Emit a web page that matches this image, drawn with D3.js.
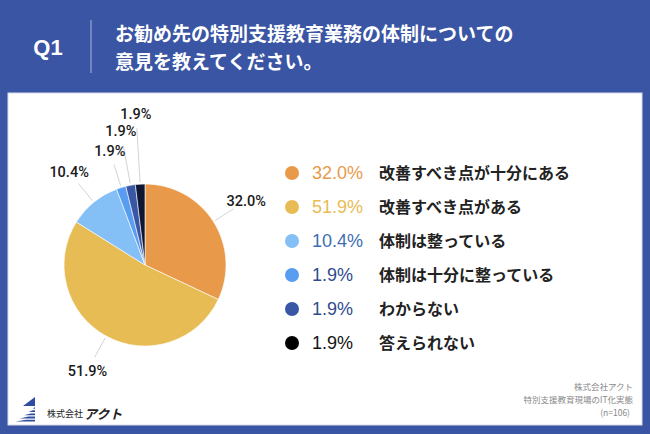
<!DOCTYPE html>
<html>
<head>
<meta charset="utf-8">
<script src="https://cdn.jsdelivr.net/npm/d3@7"></script>
<style>
  html, body { margin: 0; padding: 0; background: #3a55a3; }
  svg { display: block; }
  .jp { font-family: "Noto Sans CJK JP", "Noto Sans", sans-serif; }
  .num { font-family: "Liberation Sans", "Noto Sans", sans-serif; }
  .med { font-family: Roboto, "Liberation Sans", sans-serif; font-weight: 500; }
</style>
</head>
<body>
<svg id="chart" width="650" height="434"></svg>
<script>
// Chart data
const categories = ["改善すべき点が十分にある", "改善すべき点がある", "体制は整っている", "体制は十分に整っている", "わからない", "答えられない"];
const values = [32.0, 51.9, 10.4, 1.9, 1.9, 1.9];
const sliceColors = ["#e8994a", "#e8bc55", "#84bff5", "#589df0", "#3a57a6", "#0d1733"];
const percentColors = ["#e8994a", "#e8bc55", "#3d6eb4", "#2f4b8e", "#2f4b8e", "#111111"];
const titleLines = ["お勧め先の特別支援教育業務の体制についての", "意見を教えてください。"];
const sourceLines = ["株式会社アクト", "特別支援教育現場のIT化実態", "(n=106)"];

const svg = d3.select("#chart");
const W = 650, H = 434;

// Background + white panel
svg.append("rect").attr("width", W).attr("height", H).attr("fill", "#3a55a3");
svg.append("rect")
    .attr("x", 8).attr("y", 93).attr("width", 634).attr("height", 332)
    .attr("fill", "#ffffff").attr("stroke", "#d8dce6").attr("stroke-width", 1);

// Header
svg.append("text").attr("class", "num")
    .attr("x", 48).attr("y", 47).attr("dy", "0.36em")
    .attr("text-anchor", "middle")
    .attr("fill", "#fff").attr("font-size", 22).attr("font-weight", "bold")
    .text("Q1");
svg.append("line")
    .attr("x1", 91).attr("x2", 91).attr("y1", 20).attr("y2", 73)
    .attr("stroke", "#aab6d8").attr("stroke-width", 1);
svg.selectAll(".title").data(titleLines).enter().append("text")
    .attr("class", "jp title")
    .attr("x", 115).attr("y", (d, i) => 34 + i * 28).attr("dy", "0.36em")
    .attr("fill", "#fff").attr("font-size", 19).attr("font-weight", "bold")
    .text(d => d);

// Pie
const cx = 145, cy = 265, radius = 81;
const pie = d3.pie().sort(null).value(d => d)(values);
const arc = d3.arc().innerRadius(0).outerRadius(radius);
const g = svg.append("g").attr("transform", `translate(${cx},${cy})`);

g.selectAll("path").data(pie).enter().append("path")
    .attr("d", arc)
    .attr("fill", (d, i) => sliceColors[i])
    .attr("stroke", "#fff").attr("stroke-width", 0.6);

// Label radius: small consecutive slices get staggered outward
let stack = 0;
const labelR = pie.map(d => {
    const small = (d.endAngle - d.startAngle) < 0.2;
    stack = small ? stack + 1 : 0;
    return 120 + (small ? (stack - 1) * 16 : 0);
});
const polar = (a, r) => [r * Math.sin(a), -r * Math.cos(a)];
const mid = d => (d.startAngle + d.endAngle) / 2;

g.selectAll(".leader").data(pie).enter().append("line")
    .attr("class", "leader")
    .attr("x1", d => polar(mid(d), radius + 2)[0])
    .attr("y1", d => polar(mid(d), radius + 2)[1])
    .attr("x2", (d, i) => polar(mid(d), labelR[i] - 15)[0])
    .attr("y2", (d, i) => polar(mid(d), labelR[i] - 15)[1])
    .attr("stroke", "#c8c8c8").attr("stroke-width", 0.8);

g.selectAll(".plabel").data(pie).enter().append("text")
    .attr("class", "med plabel")
    .attr("x", (d, i) => polar(mid(d), labelR[i])[0])
    .attr("y", (d, i) => polar(mid(d), labelR[i])[1])
    .attr("dy", "0.36em").attr("text-anchor", "middle")
    .attr("font-size", 14.5).attr("fill", "#1a1a1a")
    .text(d => d.data.toFixed(1) + "%");

// Legend
const ly = d3.scaleBand().domain(d3.range(categories.length)).range([156, 360]);
const legend = svg.selectAll(".leg").data(categories).enter().append("g")
    .attr("transform", (d, i) => `translate(0,${ly(i) + ly.bandwidth() / 2})`);
legend.append("circle").attr("cx", 292).attr("r", 7).attr("fill", (d, i) => i === categories.length - 1 ? "#000" : sliceColors[i]);
legend.append("text").attr("class", "num")
    .attr("x", 312).attr("dy", "0.36em")
    .attr("font-size", 18).attr("fill", (d, i) => percentColors[i])
    .text((d, i) => values[i].toFixed(1) + "%");
legend.append("text").attr("class", "jp")
    .attr("x", 379).attr("dy", "0.36em")
    .attr("font-size", 16).attr("font-weight", "bold").attr("fill", "#222")
    .text(d => d);

// Source note
svg.selectAll(".src").data(sourceLines).enter().append("text")
    .attr("class", "jp src")
    .attr("x", (d, i) => i === 2 ? 630 : 633).attr("y", (d, i) => 387 + i * 13).attr("dy", "0.36em")
    .attr("text-anchor", "end").attr("font-size", 8.5).attr("fill", "#888")
    .text(d => d);

// Logo
const logo = svg.append("g").attr("transform", "translate(13,397)");
logo.append("path").attr("d", "M22,0 L22,9 L10,9 Z").attr("fill", "#2f4da0");
[0, 1, 2, 3, 4].forEach(k => {
    const y0 = 10 + k * 3.2;
    logo.append("path")
        .attr("d", `M${22 - k * 2.2},${y0} L22,${y0} L22,${y0 + 1.8} L${20 - k * 4.4},${y0 + 1.8} Z`)
        .attr("fill", "#2f4da0");
});
svg.append("text").attr("class", "jp")
    .attr("x", 47).attr("y", 414).attr("dy", "0.36em")
    .attr("font-size", 9).attr("fill", "#222").text("株式会社");
svg.append("text").attr("class", "jp")
    .attr("x", 84).attr("y", 414).attr("dy", "0.36em")
    .attr("font-size", 13).attr("font-weight", "bold").attr("font-style", "italic")
    .attr("fill", "#222").text("アクト");
</script>
</body>
</html>
